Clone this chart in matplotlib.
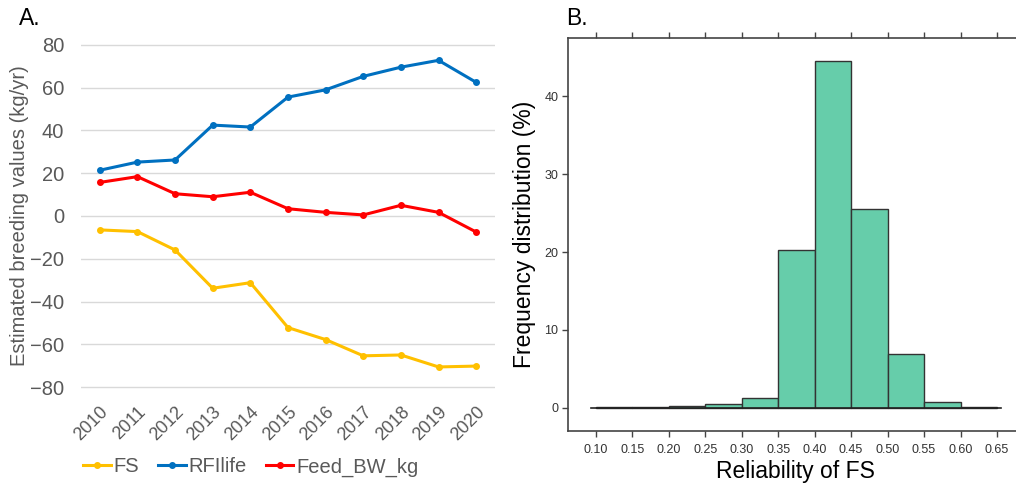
import matplotlib
matplotlib.use("Agg")
import matplotlib.pyplot as plt
import matplotlib.transforms as mtransforms

plt.rcParams["font.family"] = ["Liberation Sans", "DejaVu Sans"]

# --- panel A data ---
years = [2010, 2011, 2012, 2013, 2014, 2015, 2016, 2017, 2018, 2019, 2020]
fs = [-6.5, -7.3, -15.9, -33.8, -31.2, -52.2, -57.8, -65.4, -65.0, -70.6, -70.2]
rfi_life = [21.4, 25.2, 26.2, 42.5, 41.6, 55.6, 59.0, 65.3, 69.6, 72.8, 62.5]
feed_bw = [15.7, 18.4, 10.4, 9.0, 11.1, 3.4, 1.7, 0.5, 5.0, 1.7, -7.5]

# --- panel B data ---
bin_edges = [0.10, 0.15, 0.20, 0.25, 0.30, 0.35, 0.40, 0.45, 0.50, 0.55, 0.60, 0.65]
freq_pct = [0.02, 0.1, 0.26, 0.5, 1.23, 20.2, 44.5, 25.5, 6.9, 0.72, 0.08]

grey = "#595959"

fig = plt.figure(figsize=(10.16, 4.84), dpi=100)

# ---------------- A ----------------
ax1 = fig.add_axes([0.0797, 0.1915, 0.4075, 0.7245])
ax1.plot(years, fs, color="#FFC000", lw=2.2, marker="o", ms=4, label="FS")
ax1.plot(years, rfi_life, color="#0070C0", lw=2.2, marker="o", ms=4, label="RFIlife")
ax1.plot(years, feed_bw, color="#FF0000", lw=2.2, marker="o", ms=4, label="Feed_BW_kg")
ax1.set_xlim(2009.5, 2020.5)
ax1.set_ylim(-82, 82)
ax1.set_yticks(range(-80, 81, 20))
ax1.set_xticks(years)
ax1.set_xticklabels([str(y) for y in years], rotation=45, ha="right", va="top",
                    rotation_mode="anchor", color=grey, fontsize=13)
# nudge rotated year labels a little to the left
shift = mtransforms.ScaledTranslation(-0.07, 0, fig.dpi_scale_trans)
for lab in ax1.get_xticklabels():
    lab.set_transform(lab.get_transform() + shift)
ax1.tick_params(axis="y", colors=grey, labelsize=14.5, length=0, pad=12)
ax1.tick_params(axis="x", length=0, pad=9)
ax1.grid(axis="y", color="#d9d9d9", lw=1)
ax1.set_axisbelow(True)
for s in ax1.spines.values():
    s.set_visible(False)
ax1.set_ylabel("Estimated breeding values (kg/yr)", color=grey, fontsize=14.5, labelpad=1)
fig.legend(*ax1.get_legend_handles_labels(), loc="center", bbox_to_anchor=(0.247, 0.035),
           ncol=3, frameon=False, fontsize=14.5, labelcolor=grey,
           handlelength=1.35, handletextpad=0.15, columnspacing=0.95)
fig.text(0.019, 0.962, "A.", fontsize=16.5, va="center")

# ---------------- B ----------------
ax2 = fig.add_axes([0.559, 0.1095, 0.441, 0.812])
widths = [bin_edges[i + 1] - bin_edges[i] for i in range(len(freq_pct))]
ax2.bar(bin_edges[:-1], freq_pct, width=widths, align="edge",
        color="#66CDAA", edgecolor="#333333", lw=1)
ax2.plot([0.094, 0.656], [0, 0], color="#222222", lw=1.2)
ax2.set_xlim(0.062, 0.676)
ax2.set_ylim(-3.0, 47.5)
ax2.set_xticks(bin_edges)
ax2.set_xticklabels([f"{v:.2f}" for v in bin_edges])
ax2.set_yticks([0, 10, 20, 30, 40])
ax2.tick_params(axis="both", labelsize=9, colors="#444444", labelcolor="#333333",
                length=4, width=1)
ax2.tick_params(axis="x", top=True, pad=5)
ax2.tick_params(axis="y", pad=3)
ax2.spines["right"].set_visible(False)
for k in ["left", "bottom", "top"]:
    ax2.spines[k].set_color("#444444")
    ax2.spines[k].set_linewidth(1.2)
ax2.set_ylabel("Frequency distribution (%)", fontsize=16.5, labelpad=6)
fig.text(0.783, 0.025, "Reliability of FS", fontsize=16.5, ha="center", va="center")
fig.text(0.557, 0.962, "B.", fontsize=16.5, va="center")

fig.savefig("out.png", dpi=100)
